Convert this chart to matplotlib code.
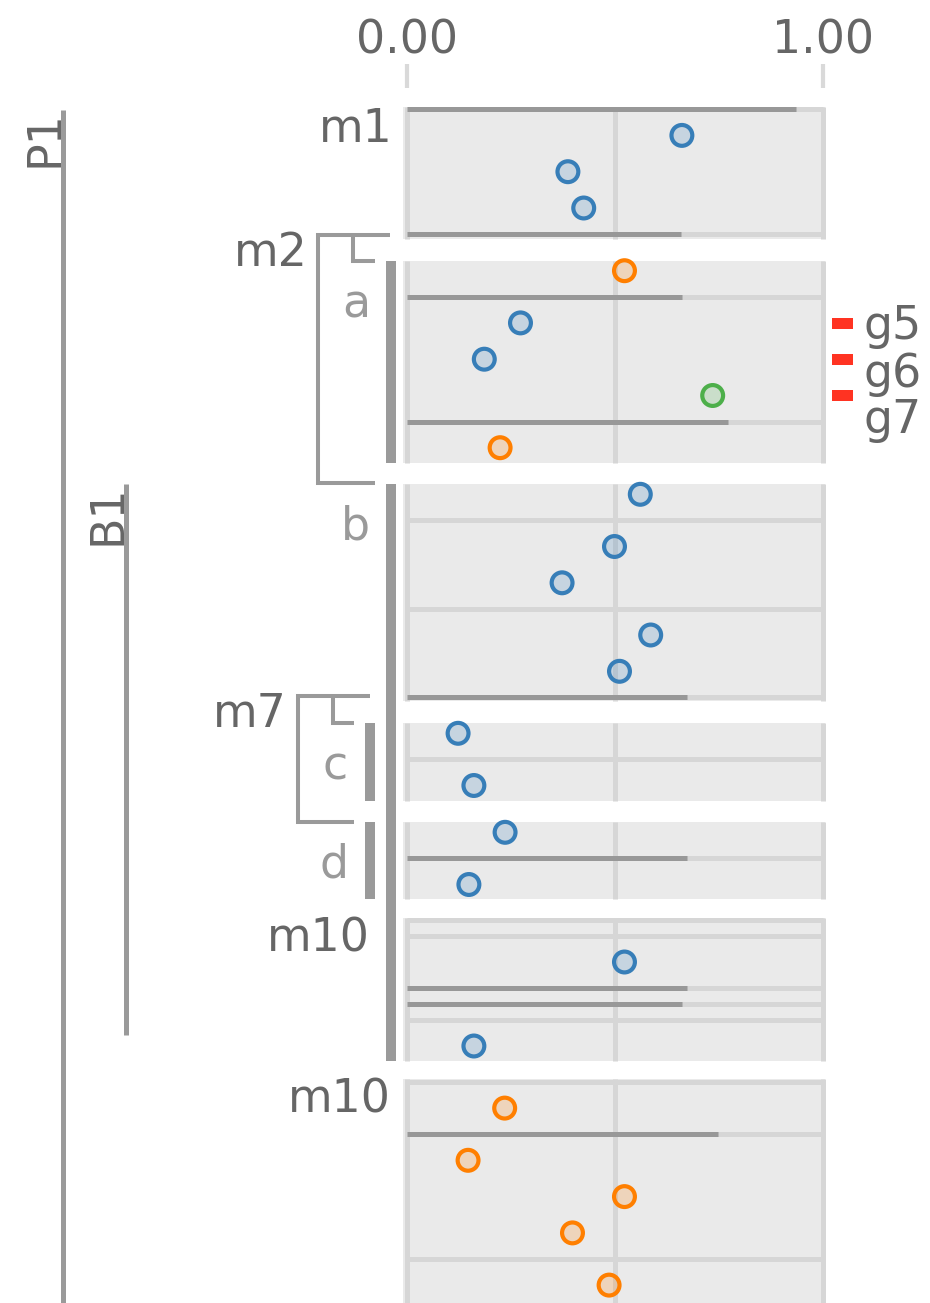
import matplotlib
matplotlib.use("Agg")
import matplotlib.pyplot as plt
from matplotlib.patches import Rectangle
from matplotlib.colors import to_rgba

# ---------------- data ----------------
panel_names = ["m1", "a", "b", "c", "d", "m10", "m10"]

m1_values = [0.662, 0.388, 0.426]
a_values = [0.524, 0.274, 0.187, 0.736, 0.225]
b_values = [0.562, 0.500, 0.374, 0.587, 0.512]
c_values = [0.124, 0.162]
d_values = [0.237, 0.150]
m10_first_values = [0.524, 0.162]
m10_second_values = [0.236, 0.148, 0.524, 0.399, 0.487]

m1_series = ["s1", "s1", "s1"]
a_series = ["s2", "s1", "s1", "s3", "s2"]
b_series = ["s1", "s1", "s1", "s1", "s1"]
c_series = ["s1", "s1"]
d_series = ["s1", "s1"]
m10_first_series = ["s1", "s1"]
m10_second_series = ["s2", "s2", "s2", "s2", "s2"]

# bar value drawn on each separator row (None = plain separator)
m1_bars = [0.937, 0.661]
a_bars = [0.662, 0.774]
b_bars = [None, None, 0.674]
c_bars = [None]
d_bars = [0.674]
m10_first_bars = [None, None, 0.674, 0.662, None]
m10_second_bars = [None, 0.749, None]

legend_labels = ["g5", "g6", "g7"]
tick_values = [0.0, 1.0]
tick_labels = ["0.00", "1.00"]

# ---------------- styles ----------------
series_colors = {"s1": "#377eb8", "s2": "#ff7f00", "s3": "#4daf4a"}
PANEL_BG = "#eaeaea"
GRID = "#d6d6d6"
BAR = "#989898"
DECO = "#9a9a9a"
TEXT = "#666666"
SUBTEXT = "#9a9a9a"
LEGEND_RED = "#ff3322"
FS = 33

plt.rcParams["font.family"] = ["DejaVu Sans"]

W, H, DPI = 930, 1303, 100
fig = plt.figure(figsize=(W / DPI, H / DPI), dpi=DPI)

# data axes: x in value units, y in pixel rows from the top
X0_PX, UNIT_PX = 406.5, 416.0
ax = fig.add_axes([0, 0, 1, 1])
ax.set_xlim(-X0_PX / UNIT_PX, (W - X0_PX) / UNIT_PX)
ax.set_ylim(H, 0)
ax.axis("off")

# overlay axes in pixel units for brackets, labels and legend
dx = fig.add_axes([0, 0, 1, 1], facecolor="none")
dx.set_xlim(0, W)
dx.set_ylim(H, 0)
dx.axis("off")

# ---------------- panel layout ----------------
# pattern: 'p' = point row, 'l' = separator row
HALF = {"p": 18.15, "l": 7.95}
panels = [
    dict(pattern="lpppl", first=109.3, top=107.0, bottom=239.0,
         values=m1_values, series=m1_series, bars=m1_bars),
    dict(pattern="plppplp", first=270.7, top=260.7, bottom=463.0,
         values=a_values, series=a_series, bars=a_bars),
    dict(pattern="plpplppl", first=494.3, top=484.0, bottom=700.7,
         values=b_values, series=b_series, bars=b_bars),
    dict(pattern="plp", first=733.3, top=722.7, bottom=800.7,
         values=c_values, series=c_series, bars=c_bars),
    dict(pattern="plp", first=832.3, top=822.0, bottom=899.3,
         values=d_values, series=d_series, bars=d_bars),
    dict(pattern="llplllp", first=920.0, top=918.0, bottom=1060.7,
         values=m10_first_values, series=m10_first_series, bars=m10_first_bars),
    dict(pattern="lplppplp", first=1082.0, top=1079.0, bottom=1310.0,
         values=m10_second_values, series=m10_second_series, bars=m10_second_bars),
]

LW_GRID = 3.6
for p in panels:
    # row centres
    ys = []
    y = p["first"]
    for i, kind in enumerate(p["pattern"]):
        if i > 0:
            y += HALF[p["pattern"][i - 1]] + HALF[kind]
        ys.append(y)
    point_y = [yy for yy, k in zip(ys, p["pattern"]) if k == "p"]
    line_y = [yy for yy, k in zip(ys, p["pattern"]) if k == "l"]

    ax.add_patch(Rectangle((-0.0077, p["top"]), 1.0144, p["bottom"] - p["top"],
                           facecolor=PANEL_BG, edgecolor="none", zorder=1))
    for gx in [0.0, 0.5, 1.0]:
        ax.plot([gx, gx], [p["top"], p["bottom"]], color=GRID, lw=LW_GRID,
                solid_capstyle="butt", zorder=2)
    for yy, bv in zip(line_y, p["bars"]):
        ax.plot([0, 1], [yy, yy], color=GRID, lw=LW_GRID,
                solid_capstyle="butt", zorder=3)
        if bv is not None:
            ax.plot([0, bv], [yy, yy], color=BAR, lw=LW_GRID,
                    solid_capstyle="butt", zorder=4)

    edges = [series_colors[s] for s in p["series"]]
    faces = [to_rgba(series_colors[s], 0.2) for s in p["series"]]
    ax.scatter(p["values"], point_y, s=225, facecolors=faces,
               edgecolors=edges, linewidths=3.0, zorder=6, clip_on=False)

# ---------------- value scale on top ----------------
for v, lab in zip(tick_values, tick_labels):
    ax.plot([v, v], [64, 88], color="#d9d9d9", lw=3.0, solid_capstyle="butt")
    ax.text(v, 53, lab, ha="center", va="baseline", fontsize=FS, color=TEXT)

# ---------------- hierarchy decorations ----------------
def seg(xs, ys, lw=2.9, color=DECO):
    dx.plot(xs, ys, color=color, lw=lw, solid_capstyle="butt",
            solid_joinstyle="miter")

# outer level lines
seg([63, 63], [110, 1310], lw=3.6)
dx.text(57, 110, "P1", rotation=90, rotation_mode="anchor", ha="right",
        va="baseline", fontsize=FS, color=TEXT)
seg([125.5, 125.5], [484, 1035], lw=3.6)
dx.text(120, 484, "B1", rotation=90, rotation_mode="anchor", ha="right",
        va="baseline", fontsize=FS, color=TEXT)

# thick group bars
seg([391, 391], [260.7, 463.0], lw=7.2)
seg([391, 391], [484.0, 1060.7], lw=7.2)
seg([370, 370], [722.7, 800.7], lw=7.2)
seg([370, 370], [822.0, 899.3], lw=7.2)

# brackets
seg([390, 318, 318, 375], [235, 235, 483, 483])
seg([352.5, 352.5, 375], [235, 260.7, 260.7])
seg([370, 297.5, 297.5, 354], [696, 696, 822, 822])
seg([333, 333, 354], [696, 722.7, 722.7])

# group labels (right edge, baseline)
label_pos = [(392.5, 141.7, TEXT), (370, 318, SUBTEXT), (370, 540, SUBTEXT),
             (348, 779, SUBTEXT), (348, 878, SUBTEXT), (370, 951.7, TEXT),
             (390.4, 1112.3, TEXT)]
for name, (xr, yb, col) in zip(panel_names, label_pos):
    dx.text(xr, yb, name, ha="right", va="baseline", fontsize=FS, color=col)
dx.text(308, 266, "m2", ha="right", va="baseline", fontsize=FS, color=TEXT)
dx.text(287, 726.7, "m7", ha="right", va="baseline", fontsize=FS, color=TEXT)

# legend
for yc in [323.3, 359.3, 395.7]:
    dx.add_patch(Rectangle((832, yc - 5.25), 21, 10.5, facecolor=LEGEND_RED,
                           edgecolor="none"))
for lab, yb in zip(legend_labels, [339.3, 386.7, 432.7]):
    dx.text(863, yb, lab, ha="left", va="baseline", fontsize=FS, color=TEXT)

fig.savefig("out.png", dpi=DPI)
